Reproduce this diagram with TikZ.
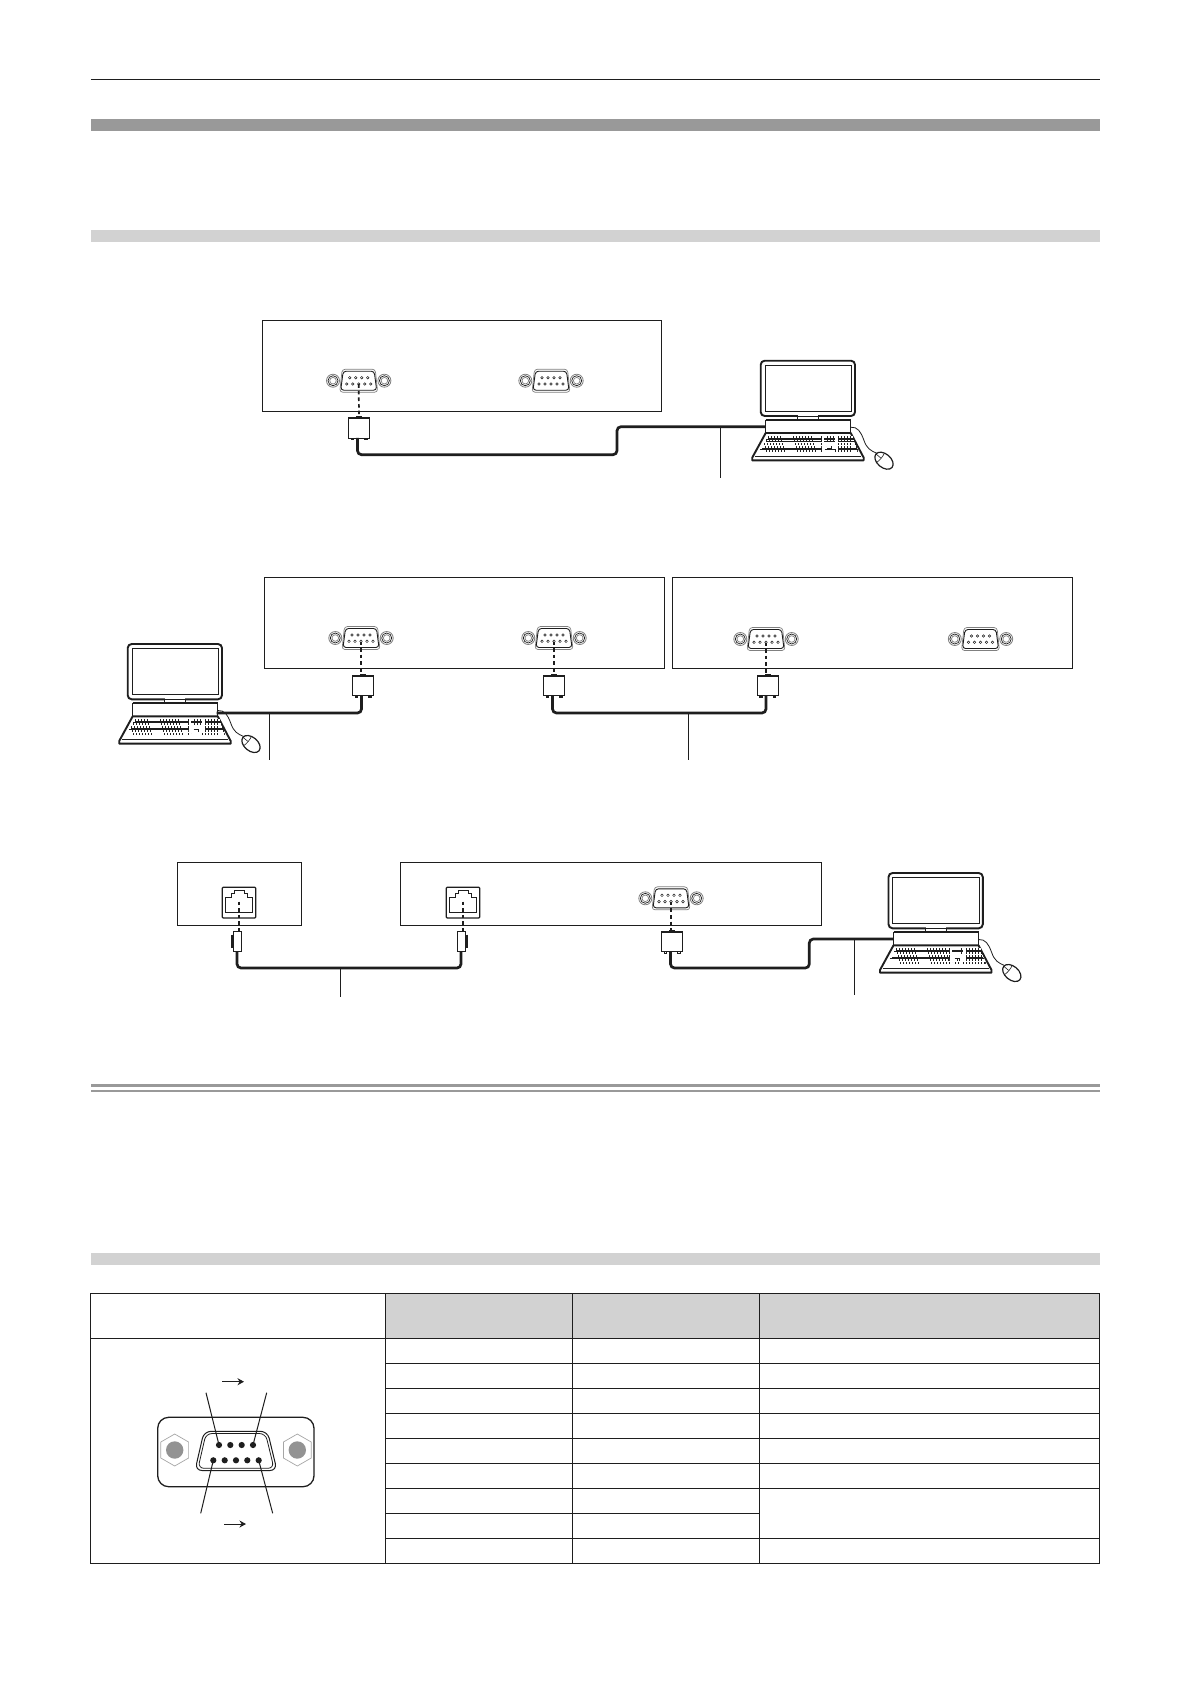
\documentclass[tikz,border=0pt]{standalone}
\usetikzlibrary{arrows.meta}
\definecolor{bandDark}{HTML}{999999}
\definecolor{bandLight}{HTML}{D2D2D2}
\definecolor{ink}{HTML}{1E1E1E}
\newcommand{\pckeys}[3]{%
  \draw[draw=ink,line width=2.8pt] (#1,#3) -- (#2,#3);
  \draw[draw=white,line width=1.9pt,dash pattern=on 2.4pt off .7pt] (#1+.4,#3) -- (#2-.4,#3);
}
\tikzset{
  panel/.style={draw=ink,line width=1.1pt,rectangle,inner sep=0pt,outer sep=0pt,anchor=north west,fill=white},
  cable/.style={draw=ink,line width=2.7pt,rounded corners=4pt},
  leader/.style={draw=ink,line width=1pt},
  linkdash/.style={draw=ink,line width=1.7pt,dash pattern=on 3.6pt off 3pt},
  tableline/.style={draw=ink,line width=1pt},
  pics/dbport/.style={code={
    \draw[draw=gray,line width=.7pt,rounded corners=3pt,fill=white] (-16.5,-11.5) -- (16.5,-11.5) -- (19,11.5) -- (-19,11.5) -- cycle;
    \draw[draw=ink,line width=.9pt,rounded corners=3pt] (-15.5,-9.5) -- (15.5,-9.5) -- (18,9.5) -- (-18,9.5) -- cycle;
    \foreach \s in {-1,1}{
      \draw[draw=gray,line width=.8pt,fill=white] (\s*25.7,0) circle[radius=6.5pt];
      \draw[draw=ink,line width=.7pt] (\s*25.7,0) circle[radius=5pt];
      \draw[draw=gray,line width=.7pt] (\s*25.7,0) circle[radius=3.3pt];
    }
    \foreach \x in {-9,-3,3,9}{\draw[draw=ink,line width=.5pt,fill=white] (\x,-3) circle[radius=1.3pt];}
    \foreach \x in {-12,-6,0,6,12}{\draw[draw=ink,line width=.5pt,fill=white] (\x,3.3) circle[radius=1.3pt];}
    \coordinate (-low) at (0,3.5);
  }},
  pics/dplug/.style={code={
    \node[draw=ink,line width=1pt,fill=white,inner sep=0pt,minimum width=21pt,minimum height=20.5pt] (-b) at (0,0) {};
    \draw[draw=ink,line width=2pt] (-10.5,-10) -- (10.5,-10);
    \fill[ink] (-3,-12) rectangle (3,-10);
    \draw[draw=ink,line width=.7pt,fill=white] (-8,10.3) rectangle (-5.5,12);
    \draw[draw=ink,line width=.7pt,fill=white] (5.5,10.3) rectangle (8,12);
    \coordinate (-bot) at (-1.5,10);
  }},
  pics/slimplug/.style={code={
    \node[draw=ink,line width=.8pt,fill=white,inner sep=0pt,minimum width=8pt,minimum height=20pt] (-b) at (1,0) {};
    \draw[draw=ink,line width=2pt] (-4.5,-7) -- (-4.5,6);
    \coordinate (-bot) at (1,10);
  }},
  pics/rjport/.style={code={
    \draw[draw=ink,line width=1.2pt,rounded corners=1pt,fill=white] (-16.8,-15.3) rectangle (16.8,15.3);
    \draw[draw=ink,line width=1pt] (-13.3,9.4) -- (-13.3,-5) -- (-8,-5) -- (-8,-9.3) -- (-5,-9.3) -- (-5,-12) -- (5,-12) -- (5,-9.3) -- (8,-9.3) -- (8,-5) -- (13.3,-5) -- (13.3,9.4) -- cycle;
    \coordinate (-mid) at (0,-1);
  }},
  pics/pc/.style={code={
    \draw[draw=ink,line width=1.9pt,rounded corners=4pt,fill=white] (-5,-66) rectangle (89.3,-10.7);
    \draw[draw=ink,line width=.9pt] (-.7,-61.5) rectangle (85.5,-15.5);
    \fill[white] (32,-11.7) rectangle (52.6,-7.8);
    \draw[draw=ink,line width=.8pt] (32,-10.2) -- (52.6,-10.2);
    \draw[draw=ink,line width=1pt] (32,-10.7) -- (32,-6.7);
    \draw[draw=ink,line width=1pt] (52.6,-10.7) -- (52.6,-6.7);
    \draw[draw=ink,line width=1.9pt,line join=round,fill=white] (0,6.3) -- (85,6.3) -- (98,31) -- (98,33.6) -- (-13.5,33.6) -- (-13.5,31) -- cycle;
    \draw[draw=ink,line width=1.4pt] (0,6.3) -- (0,-6.7);
    \draw[draw=ink,line width=1.4pt] (85,6.3) -- (85,-6.7);
    \draw[draw=ink,line width=2.2pt] (0,-6.7) -- (85,-6.7);
    \draw[draw=ink,line width=.8pt] (-11,29.5) -- (95,29.5);
    \foreach \r in {0,...,4}{
      \pgfmathsetmacro{\yy}{10.4+\r*3.4}
      \pgfmathsetmacro{\xa}{2.6-\r*2.1}
      \pgfmathsetmacro{\xb}{87.6+\r*1.1}
      \pckeys{\xa}{56}{\yy}
      \pckeys{72.6}{\xb}{\yy}
    }
    \foreach \yy in {10.4,13.8}{\pckeys{58.3}{69.3}{\yy}}
    \pckeys{61}{66}{20.6}
    \pckeys{59}{70}{24}
    \draw[draw=ink,line width=.8pt] (85,.5) .. controls (92,0) and (95,5) .. (98,13) .. controls (101,22) and (105,24) .. (111,26.5);
    \begin{scope}[shift={(118.3,34)},rotate=-40]
      \draw[draw=ink,line width=1.2pt,fill=white] (0,0) ellipse[x radius=10.5pt,y radius=6.8pt];
      \draw[draw=ink,line width=.6pt] (-4.5,-6) .. controls (-3.5,-2) and (-3.5,2) .. (-4.5,6);
      \draw[draw=ink,line width=.6pt] (-10.3,0) -- (-4,0);
    \end{scope}
    \coordinate (-in) at (0,0);
    \coordinate (-out) at (84,3);
  }}
}
\begin{document}
\begin{tikzpicture}[x=1pt,y=-1pt]
\useasboundingbox[fill=white] (0,0) rectangle (1191,1684);

% page rules and bands
\draw[draw=ink,line width=1pt] (90.8,79) -- (1100,79);
\fill[bandDark] (90.8,119.2) rectangle (1100,131);
\fill[bandLight] (90.8,229.8) rectangle (1100,241.6);
\fill[bandDark] (90.8,1084) rectangle (1100,1087);
\fill[bandDark] (90.8,1090) rectangle (1100,1092);
\fill[bandLight] (90.8,1253.3) rectangle (1100,1265);

% diagram 1
\node[panel,minimum width=399pt,minimum height=91pt] (boxA) at (262.3,320.3) {};
\pic (dbA) at (358.7,380.7) {dbport};
\pic (dbB) at (551,380.7) {dbport};
\pic (plugA) at (359,427.8) {dplug};
\pic (pcA) at (765.7,426.7) {pc};
\coordinate (bendA) at (617,454.7);
\coordinate (leadA) at (720.3,426.7);
\coordinate (leadAend) at (720.3,478);
\draw[linkdash] (dbA-low) -- (plugA-b.north);
\draw[cable] (plugA-bot) |- (bendA) |- (pcA-in);
\draw[leader] (leadA) -- (leadAend);

% diagram 2
\node[panel,minimum width=400pt,minimum height=91pt] (boxB) at (264.3,577.3) {};
\node[panel,minimum width=400pt,minimum height=91pt] (boxC) at (672.3,577.3) {};
\pic (dbC) at (361,638) {dbport};
\pic (dbD) at (554,638) {dbport};
\pic (dbE) at (766,639) {dbport};
\pic (dbF) at (980.5,639) {dbport};
\pic (plugC) at (363,685.7) {dplug};
\pic (plugD) at (554,685.7) {dplug};
\pic (plugE) at (767.5,685.7) {dplug};
\pic (pcB) at (132.7,710) {pc};
\coordinate (bendD) at (688.4,713);
\coordinate (leadB) at (269.3,713);
\coordinate (leadBend) at (269.3,760);
\coordinate (leadCend) at (688.4,760);
\draw[linkdash] (dbC-low) -- (dbC-low |- plugC-b.north);
\draw[linkdash] (dbD-low) -- (plugD-b.north);
\draw[linkdash] (dbE-low) -- (dbE-low |- plugE-b.north);
\draw[cable] (plugC-bot) |- (pcB-out);
\draw[cable] (plugD-bot) |- (bendD) -| (plugE-bot);
\draw[leader] (leadB) -- (leadBend);
\draw[leader] (bendD) -- (leadCend);

% diagram 3
\node[panel,minimum width=124pt,minimum height=63pt] (boxD) at (177.3,862.3) {};
\node[panel,minimum width=421pt,minimum height=63pt] (boxE) at (400.3,862.3) {};
\pic (rjA) at (239,902.6) {rjport};
\pic (rjB) at (463,902.6) {rjport};
\pic (dbG) at (671,898.3) {dbport};
\pic (slimA) at (236,941.5) {slimplug};
\pic[xscale=-1] (slimB) at (462,941.5) {slimplug};
\pic (plugG) at (672,941.5) {dplug};
\pic (pcC) at (893.5,939) {pc};
\coordinate (bendG) at (809.3,968);
\coordinate (leadD) at (340.7,968);
\coordinate (leadDend) at (340.7,996.7);
\coordinate (leadE) at (854.3,939);
\coordinate (leadEend) at (854.3,995);
\draw[linkdash] (rjA-mid) -- (rjA-mid |- slimA-b.north);
\draw[linkdash] (rjB-mid) -- (rjB-mid |- slimB-b.north);
\draw[linkdash] (dbG-low) -- (dbG-low |- plugG-b.north);
\draw[cable] (slimA-bot) |- (leadD) -| (slimB-bot);
\draw[cable] (plugG-bot) |- (bendG) |- (pcC-in);
\draw[leader] (leadD) -- (leadDend);
\draw[leader] (leadE) -- (leadEend);

% table
\fill[bandLight] (385.5,1293) rectangle (1099.7,1338.3);
\draw[tableline] (90.2,1293) rectangle (1099.7,1563);
\draw[tableline] (90.2,1338.3) -- (1099.7,1338.3);
\draw[tableline] (385.5,1293) -- (385.5,1563);
\draw[tableline] (572.4,1293) -- (572.4,1563);
\draw[tableline] (759.3,1293) -- (759.3,1563);
\foreach \yy in {1363.3,1388.3,1413.3,1438.3,1463.3,1488.4,1538.5}{\draw[tableline] (385.5,\yy) -- (1099.7,\yy);}
\draw[tableline] (385.5,1513.5) -- (759.3,1513.5);

% connector in table
\draw[draw=ink,line width=1.3pt,rounded corners=11pt,fill=white] (157.7,1417.3) rectangle (314,1486.7);
\foreach \cx in {174.7,297.3}{
  \draw[draw=gray!70,line width=.7pt] (\cx,1434) -- (\cx+13.9,1442) -- (\cx+13.9,1458) -- (\cx,1466) -- (\cx-13.9,1458) -- (\cx-13.9,1442) -- cycle;
  \fill[gray!85] (\cx,1450) circle[radius=8.7pt];
}
\draw[draw=ink,line width=1pt,rounded corners=7pt] (204,1431.3) -- (267.5,1431.3) -- (277,1470.5) -- (195,1470.5) -- cycle;
\draw[draw=ink,line width=.8pt,rounded corners=6pt] (206,1433.5) -- (265.5,1433.5) -- (274,1468.3) -- (198,1468.3) -- cycle;
\foreach \n/\x in {1/219,2/230.3,3/241.7,4/253}{\fill[ink] (\x,1445) circle[radius=3.1pt] coordinate (pinT\n);}
\foreach \n/\x in {1/213.3,2/224.7,3/236,4/247.3,5/258.7}{\fill[ink] (\x,1460.3) circle[radius=3.1pt] coordinate (pinB\n);}
\coordinate (pinLa) at (206,1392.7);
\coordinate (pinLb) at (266.7,1392.7);
\coordinate (pinLc) at (200.7,1513.3);
\coordinate (pinLd) at (272.7,1513.3);
\draw[leader] (pinLa) -- (pinT1);
\draw[leader] (pinLb) -- (pinT4);
\draw[leader] (pinLc) -- (pinB1);
\draw[leader] (pinLd) -- (pinB5);
\coordinate (arrA) at (222.3,1381.7);
\coordinate (arrB) at (244,1381.7);
\coordinate (arrC) at (224.3,1524);
\coordinate (arrD) at (246,1524);
\draw[leader,-{Stealth[length=6.5pt,width=7pt]}] (arrA) -- (arrB);
\draw[leader,-{Stealth[length=6.5pt,width=7pt]}] (arrC) -- (arrD);
\end{tikzpicture}
\end{document}
